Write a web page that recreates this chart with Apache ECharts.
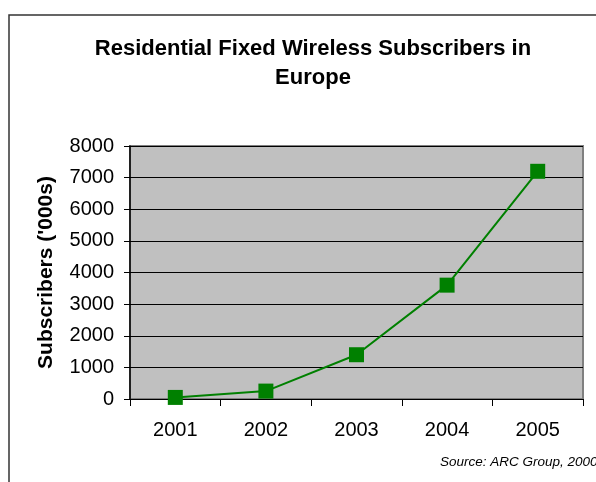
<!DOCTYPE html>
<html>
<head>
<meta charset="utf-8">
<script src="https://cdn.jsdelivr.net/npm/echarts@6/dist/echarts.min.js"></script>
<style>
  html, body { margin: 0; padding: 0; background: #fff; }
  #chart { width: 596px; height: 482px; }
</style>
</head>
<body>
<div id="chart"></div>
<script>
// 연도별 가입자 수 (천 단위)
const years = ['2001', '2002', '2003', '2004', '2005']
const subscribers = [50, 250, 1400, 3600, 7200]

const font = 'Liberation Sans, Arial, sans-serif'

const chart = echarts.init(document.getElementById('chart'))

chart.setOption({
  animation: false,
  title: {
    text: 'Residential Fixed Wireless Subscribers in\nEurope',
    left: 308,
    top: 29,
    textAlign: 'center',
    textStyle: {
      fontFamily: font,
      fontSize: 22,
      fontWeight: 'bold',
      color: '#000',
      lineHeight: 29
    }
  },
  grid: {
    left: 130,
    right: 13,
    top: 146,
    bottom: 83,
    show: true,
    backgroundColor: '#c0c0c0',
    borderColor: '#808080',
    borderWidth: 2
  },
  xAxis: {
    type: 'category',
    data: years,
    boundaryGap: true,
    axisLine: { lineStyle: { color: '#000', width: 1 } },
    axisTick: { show: true, length: 7, lineStyle: { color: '#000' } },
    axisLabel: { fontFamily: font, fontSize: 20, color: '#000', margin: 21 }
  },
  yAxis: {
    type: 'value',
    min: 0,
    max: 8000,
    interval: 1000,
    name: "Subscribers ('000s)",
    nameLocation: 'middle',
    nameGap: 73,
    nameTextStyle: { fontFamily: font, fontSize: 21, fontWeight: 'bold', color: '#000' },
    axisLine: { show: true, lineStyle: { color: '#000', width: 1.5 } },
    axisTick: { show: true, length: 6, lineStyle: { color: '#000' } },
    axisLabel: { fontFamily: font, fontSize: 20, color: '#000', margin: 16, formatter: v => String(v) },
    splitLine: { show: true, lineStyle: { color: '#000', width: 1 } }
  },
  series: [
    {
      type: 'line',
      data: subscribers,
      symbol: 'rect',
      symbolSize: 15,
      lineStyle: { color: '#008000', width: 2 },
      itemStyle: { color: '#008000' }
    }
  ],
  graphic: [
    {
      type: 'polyline',
      shape: { points: [[9, 482], [9, 15], [596, 15]] },
      style: { stroke: '#333', lineWidth: 1.5, fill: null }
    },
    {
      type: 'text',
      left: 440,
      top: 455,
      style: {
        text: 'Source: ARC Group, 2000',
        fontFamily: font,
        fontSize: 13.5,
        fontStyle: 'italic',
        fill: '#000'
      }
    }
  ]
})
</script>
</body>
</html>
